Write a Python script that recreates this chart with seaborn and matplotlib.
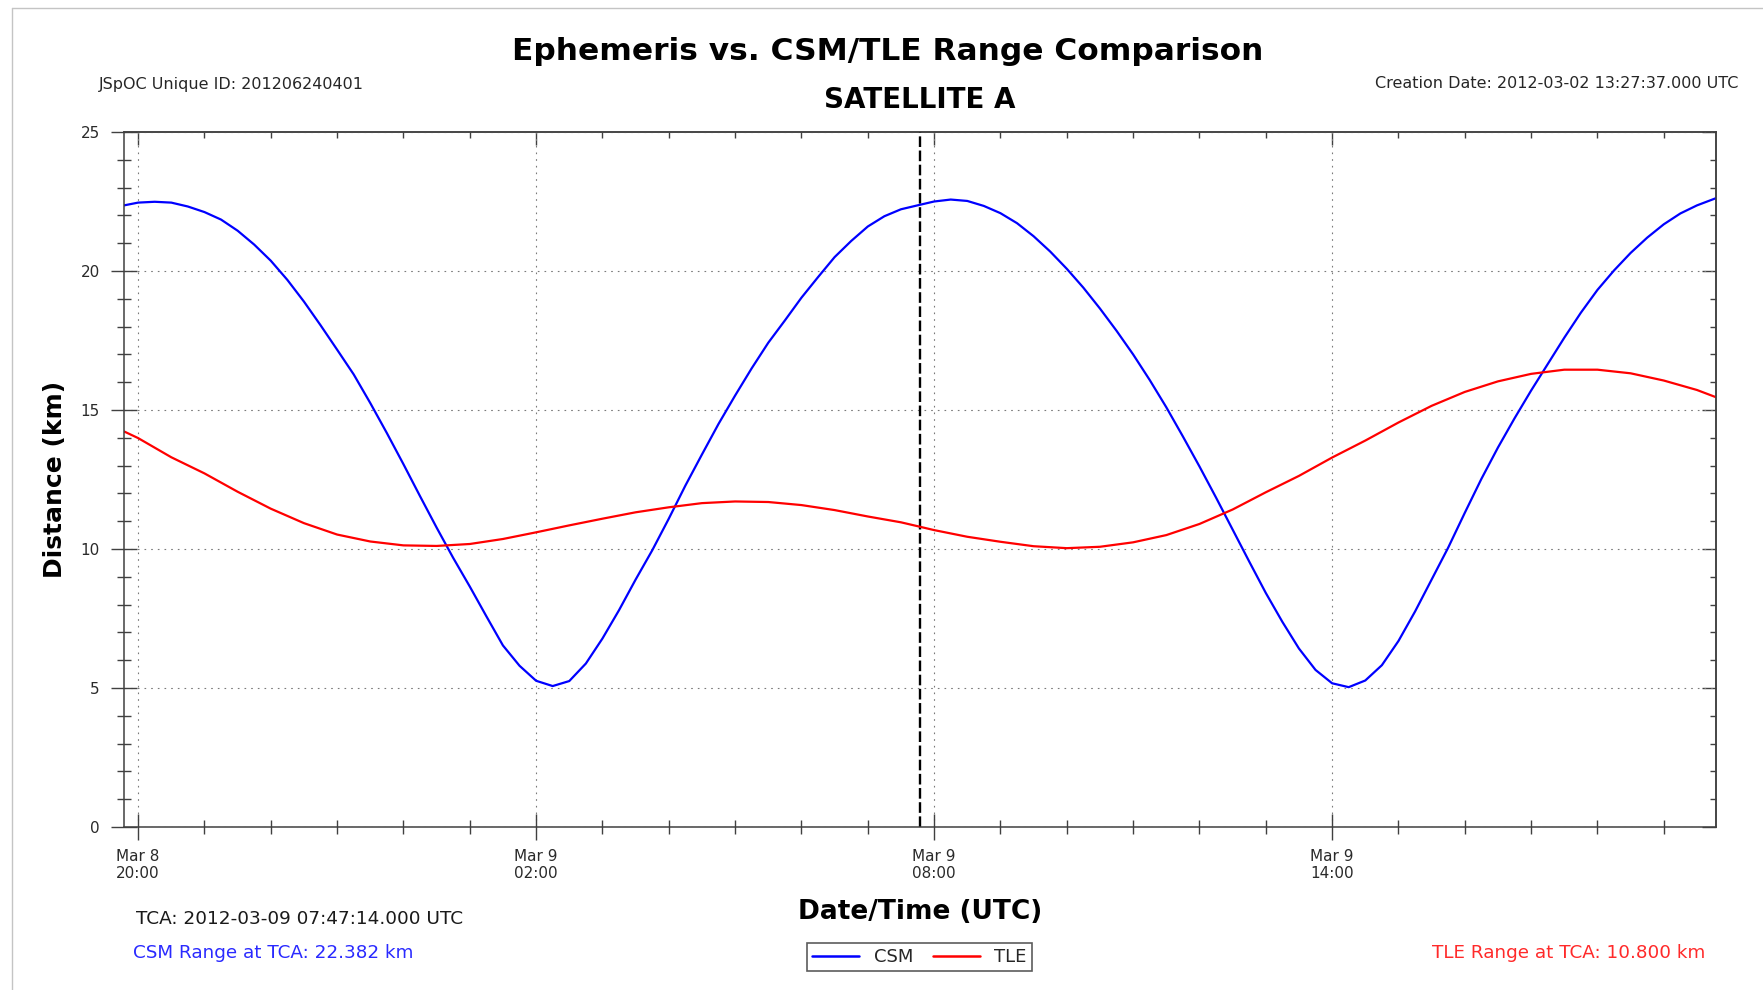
import pandas as pd
import matplotlib
matplotlib.use("Agg")
import matplotlib.pyplot as plt
import matplotlib.dates as mdates
from matplotlib.ticker import MultipleLocator, NullFormatter
from matplotlib.lines import Line2D
import seaborn as sns

# Reference epoch for the sample offsets below (UTC)
EPOCH = pd.Timestamp("2012-03-08 20:00:00")
TCA = pd.Timestamp("2012-03-09 07:47:14")

# CSM-derived range, hours after EPOCH -> km
csm_hours = [-0.2128, 0.00, 0.25, 0.50, 0.75, 1.00, 1.25, 1.50, 1.75, 2.00,
             2.25, 2.50, 2.75, 3.00, 3.25, 3.50, 3.75, 4.00, 4.25, 4.50,
             4.75, 5.00, 5.25, 5.50, 5.75, 6.00, 6.25, 6.50, 6.75, 7.00,
             7.25, 7.50, 7.75, 8.00, 8.25, 8.50, 8.75, 9.00, 9.25, 9.50,
             9.75, 10.00, 10.25, 10.50, 10.75, 11.00, 11.25, 11.50, 11.7872, 12.00,
             12.25, 12.50, 12.75, 13.00, 13.25, 13.50, 13.75, 14.00, 14.25, 14.50,
             14.75, 15.00, 15.25, 15.50, 15.75, 16.00, 16.25, 16.50, 16.75, 17.00,
             17.25, 17.50, 17.75, 18.00, 18.25, 18.50, 18.75, 19.00, 19.25, 19.50,
             19.75, 20.00, 20.25, 20.50, 20.75, 21.00, 21.25, 21.50, 21.75, 22.00,
             22.25, 22.50, 22.75, 23.00, 23.25, 23.50, 23.7872]
csm_km = [22.36, 22.46, 22.49, 22.46, 22.32, 22.12, 21.85, 21.45, 20.95, 20.37,
          19.68, 18.90, 18.05, 17.17, 16.28, 15.25, 14.17, 13.05, 11.90, 10.77,
          9.68, 8.65, 7.58, 6.53, 5.80, 5.26, 5.07, 5.25, 5.88, 6.78,
          7.80, 8.90, 9.95, 11.09, 12.28, 13.40, 14.50, 15.52, 16.50, 17.42,
          18.22, 19.04, 19.78, 20.50, 21.08, 21.60, 21.97, 22.22, 22.382, 22.50,
          22.57, 22.52, 22.34, 22.08, 21.72, 21.25, 20.70, 20.08, 19.40, 18.65,
          17.85, 17.00, 16.08, 15.10, 14.05, 12.97, 11.85, 10.70, 9.55, 8.42,
          7.38, 6.42, 5.65, 5.17, 5.03, 5.27, 5.82, 6.69, 7.75, 8.90,
          10.05, 11.30, 12.52, 13.65, 14.70, 15.70, 16.65, 17.60, 18.50, 19.32,
          20.02, 20.65, 21.20, 21.68, 22.07, 22.36, 22.62]

# TLE-derived range, hours after EPOCH -> km
tle_hours = [-0.2128, 0.0, 0.5, 1.0, 1.5, 2.0, 2.5, 3.0, 3.5, 4.0,
             4.5, 5.0, 5.5, 6.0, 6.5, 7.0, 7.5, 8.0, 8.5, 9.0,
             9.5, 10.0, 10.5, 11.0, 11.5, 11.7872, 12.0, 12.5, 13.0, 13.5,
             14.0, 14.5, 15.0, 15.5, 16.0, 16.5, 17.0, 17.5, 18.0, 18.5,
             19.0, 19.5, 20.0, 20.5, 21.0, 21.5, 22.0, 22.5, 23.0, 23.5,
             23.7872]
tle_km = [14.23, 13.99, 13.30, 12.72, 12.06, 11.45, 10.93, 10.52, 10.27, 10.13,
          10.11, 10.18, 10.36, 10.60, 10.85, 11.09, 11.32, 11.50, 11.65, 11.71,
          11.69, 11.58, 11.40, 11.17, 10.96, 10.800, 10.68, 10.44, 10.26, 10.10,
          10.03, 10.08, 10.24, 10.50, 10.90, 11.42, 12.04, 12.63, 13.29, 13.90,
          14.55, 15.15, 15.65, 16.03, 16.30, 16.45, 16.45, 16.32, 16.06, 15.72,
          15.46]

csm_at_tca = 22.382
tle_at_tca = 10.800

unique_id = "201206240401"
creation_date = "2012-03-02 13:27:37.000 UTC"
y_ticks = [0, 5, 10, 15, 20, 25]

sns.set_style("ticks")
plt.rcParams["font.family"] = ["DejaVu Sans"]
plt.rcParams["axes.edgecolor"] = "#404040"
plt.rcParams["axes.linewidth"] = 1.1

df = pd.concat([
    pd.DataFrame({"time": EPOCH + pd.to_timedelta(csm_hours, unit="h"),
                  "range_km": csm_km, "source": "CSM"}),
    pd.DataFrame({"time": EPOCH + pd.to_timedelta(tle_hours, unit="h"),
                  "range_km": tle_km, "source": "TLE"}),
], ignore_index=True)

W, H = 1763, 990
fig = plt.figure(figsize=(W / 100, H / 100), dpi=100)
fig.patch.set_facecolor("white")
ax = fig.add_axes([124 / W, 1 - 827 / H, (1716 - 124) / W, (827 - 132) / H])

sns.lineplot(data=df, x="time", y="range_km", hue="source",
             palette={"CSM": "#0000ff", "TLE": "#ff0000"},
             estimator=None, linewidth=1.6, ax=ax)

# TCA marker
ax.axvline(TCA, color="black", linestyle=(0, (4.5, 1.5)), linewidth=1.7, zorder=1)

ax.set_xlim(TCA - pd.Timedelta(hours=12), TCA + pd.Timedelta(hours=12))
ax.set_ylim(0, 25)
ax.set_yticks(y_ticks)
ax.yaxis.set_minor_locator(MultipleLocator(1))
ax.xaxis.set_major_locator(mdates.HourLocator(byhour=[2, 8, 14, 20]))
ax.xaxis.set_minor_locator(mdates.HourLocator())
ax.xaxis.set_major_formatter(mdates.DateFormatter("%b %-d\n%H:%M"))

ax.grid(True, which="major", color="#7a7a7a", linestyle=(0, (1.5, 4.5)), linewidth=0.8)
ax.tick_params(which="major", direction="inout", length=19, width=1.0,
               color="#404040", labelsize=11, labelcolor="#2a2a2a",
               top=False, right=False)
ax.tick_params(axis="y", which="major", pad=7.8)
ax.tick_params(axis="x", which="major", pad=6.3)
ax.tick_params(which="minor", direction="inout", length=9.4, width=1.0,
               color="#404040", top=False, right=False)

# Inward ticks along the top and right edges
secx = ax.secondary_xaxis("top")
secx.xaxis.set_major_locator(mdates.HourLocator(byhour=[2, 8, 14, 20]))
secx.xaxis.set_minor_locator(mdates.HourLocator())
secx.xaxis.set_major_formatter(NullFormatter())
secx.tick_params(which="major", direction="in", length=9, width=1.0, color="#404040")
secx.tick_params(which="minor", direction="in", length=4.3, width=1.0, color="#404040")

secy = ax.secondary_yaxis("right")
secy.set_yticks(y_ticks)
secy.yaxis.set_minor_locator(MultipleLocator(1))
secy.yaxis.set_major_formatter(NullFormatter())
secy.tick_params(which="major", direction="in", length=10, width=1.0, color="#404040")
secy.tick_params(which="minor", direction="in", length=4.3, width=1.0, color="#404040")

ax.set_xlabel("Date/Time (UTC)", fontsize=19, fontweight="bold", color="black")
ax.xaxis.set_label_coords(0.5, -0.103)
ax.set_ylabel("Distance (km)", fontsize=18, fontweight="bold", color="black")
ax.yaxis.set_label_coords(-0.036, 0.5)

handles, labels = ax.get_legend_handles_labels()
ax.get_legend().remove()
leg = fig.legend(handles, labels, loc="center", bbox_to_anchor=(919.5 / W, 1 - 957 / H),
                 ncol=2, frameon=True, fancybox=False, edgecolor="#333333",
                 fontsize=13, handlelength=2.6, handletextpad=0.8,
                 columnspacing=1.1, borderpad=0.3)
leg.get_frame().set_linewidth(1.2)
for line in leg.get_lines():
    line.set_linewidth(1.8)

# Header texts
fig.text(888 / W, 1 - 52 / H, "Ephemeris vs. CSM/TLE Range Comparison",
         ha="center", va="center", fontsize=22.5, fontweight="bold", color="black")
fig.text(920 / W, 1 - 100 / H, "SATELLITE A", ha="center", va="center",
         fontsize=20, fontweight="bold", color="black")
fig.text(99 / W, 1 - 84 / H, f"JSpOC Unique ID: {unique_id}", ha="left", va="center",
         fontsize=11.5, color="#262626")
fig.text(1738 / W, 1 - 84 / H, f"Creation Date: {creation_date}", ha="right", va="center",
         fontsize=11.5, color="#262626")

# Footer texts
fig.text(136 / W, 1 - 918.5 / H, f"TCA: {TCA:%Y-%m-%d %H:%M:%S}.000 UTC",
         ha="left", va="center", fontsize=13.3, color="#1a1a1a")
fig.text(133 / W, 1 - 953.5 / H, f"CSM Range at TCA: {csm_at_tca:.3f} km",
         ha="left", va="center", fontsize=13.25, color="#2a2aff")
fig.text(1705 / W, 1 - 953.5 / H, f"TLE Range at TCA: {tle_at_tca:.3f} km",
         ha="right", va="center", fontsize=13.25, color="#ff2a2a")

# Thin page frame
fig.add_artist(Line2D([12 / W, 12 / W], [0, 1 - 8 / H], transform=fig.transFigure,
                      color="#c4c4c4", linewidth=1.0))
fig.add_artist(Line2D([12 / W, 1], [1 - 8 / H, 1 - 8 / H], transform=fig.transFigure,
                      color="#c4c4c4", linewidth=1.0))

fig.savefig("out.png", dpi=100, facecolor="white")
